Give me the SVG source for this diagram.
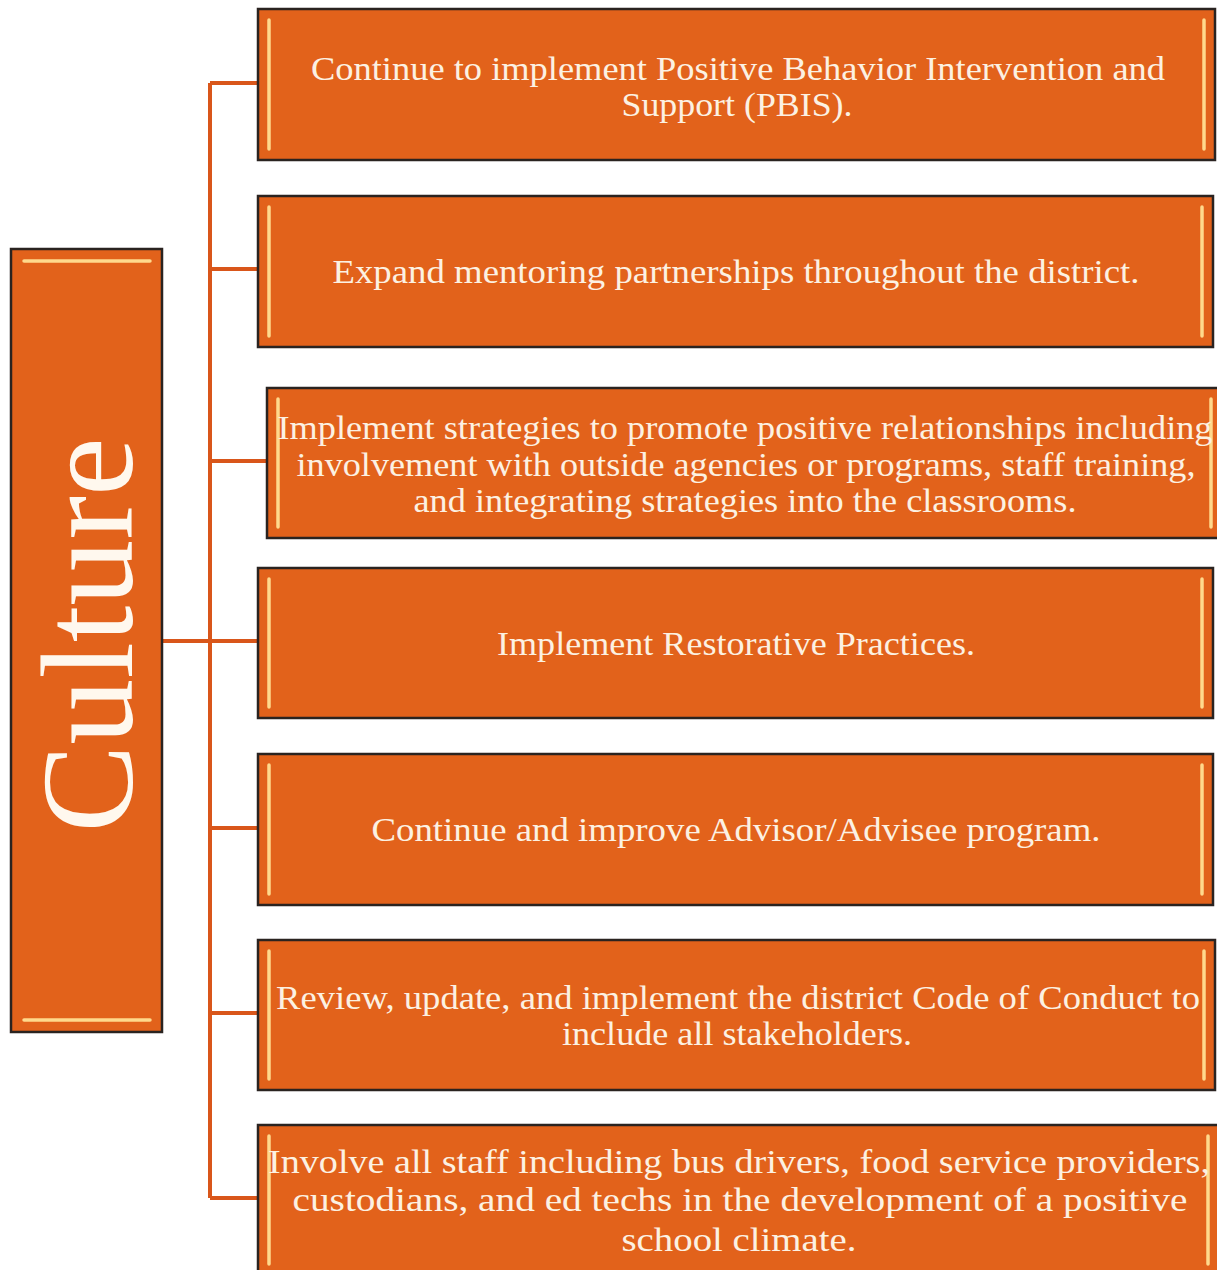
<svg xmlns="http://www.w3.org/2000/svg" width="1217" height="1270" viewBox="0 0 1217 1270">
<defs>
<style>
.box{fill:#E2621B;stroke:#2a2320;stroke-width:2.5}
.hl{stroke:#FFD98C;stroke-width:3.5;stroke-linecap:round}
.conn{fill:none;stroke:#D9561A;stroke-width:4}
.t{font-family:"Liberation Serif","Times New Roman",serif;font-size:33px;fill:#FCF1E2;text-anchor:middle}
.big{font-family:"Liberation Serif","Times New Roman",serif;font-size:132px;fill:#FFF8EE;text-anchor:middle}
</style>
</defs>
<rect width="1217" height="1270" fill="#ffffff"/>
<g id="connectors">
<path class="conn" d="M162,641 H210 M210,83 V1198 M210,83 H258 M210,269 H258 M210,461 H267 M210,641 H258 M210,828 H258 M210,1013 H258 M210,1198 H258"/>
</g>
<g id="culture">
<rect class="box" x="11" y="249" width="151" height="783"/>
<line class="hl" x1="24" y1="261" x2="150" y2="261"/>
<line class="hl" x1="24" y1="1020" x2="150" y2="1020"/>
<text class="big" transform="translate(132,635) rotate(-90)" x="0" y="0" textLength="395" lengthAdjust="spacingAndGlyphs">Culture</text>
</g>
<g id="n1">
<rect class="box" x="258" y="9" width="957" height="151"/>
<line class="hl" x1="269" y1="20" x2="269" y2="149"/>
<line class="hl" x1="1204" y1="20" x2="1204" y2="149"/>
<text class="t" x="738" y="80" textLength="854" lengthAdjust="spacingAndGlyphs">Continue to implement Positive Behavior Intervention and</text>
<text class="t" x="737" y="116" textLength="231" lengthAdjust="spacingAndGlyphs">Support (PBIS).</text>
</g>
<g id="n2">
<rect class="box" x="258" y="196" width="955" height="151"/>
<line class="hl" x1="269" y1="207" x2="269" y2="336"/>
<line class="hl" x1="1202" y1="207" x2="1202" y2="336"/>
<text class="t" x="736" y="283" textLength="807" lengthAdjust="spacingAndGlyphs">Expand mentoring partnerships throughout the district.</text>
</g>
<g id="n3">
<rect class="box" x="267" y="388" width="955" height="150"/>
<line class="hl" x1="278" y1="399" x2="278" y2="527"/>
<line class="hl" x1="1211" y1="399" x2="1211" y2="527"/>
<text class="t" x="745" y="439" textLength="935" lengthAdjust="spacingAndGlyphs">Implement strategies to promote positive relationships including</text>
<text class="t" x="746" y="476" textLength="899" lengthAdjust="spacingAndGlyphs">involvement with outside agencies or programs, staff training,</text>
<text class="t" x="745" y="512" textLength="663" lengthAdjust="spacingAndGlyphs">and integrating strategies into the classrooms.</text>
</g>
<g id="n4">
<rect class="box" x="258" y="568" width="955" height="150"/>
<line class="hl" x1="269" y1="579" x2="269" y2="707"/>
<line class="hl" x1="1202" y1="579" x2="1202" y2="707"/>
<text class="t" x="736" y="655" textLength="478" lengthAdjust="spacingAndGlyphs">Implement Restorative Practices.</text>
</g>
<g id="n5">
<rect class="box" x="258" y="754" width="955" height="151"/>
<line class="hl" x1="269" y1="765" x2="269" y2="894"/>
<line class="hl" x1="1202" y1="765" x2="1202" y2="894"/>
<text class="t" x="736" y="841" textLength="729" lengthAdjust="spacingAndGlyphs">Continue and improve Advisor/Advisee program.</text>
</g>
<g id="n6">
<rect class="box" x="258" y="940" width="957" height="150"/>
<line class="hl" x1="269" y1="951" x2="269" y2="1079"/>
<line class="hl" x1="1204" y1="951" x2="1204" y2="1079"/>
<text class="t" x="738" y="1009" textLength="924" lengthAdjust="spacingAndGlyphs">Review, update, and implement the district Code of Conduct to</text>
<text class="t" x="737" y="1045" textLength="350" lengthAdjust="spacingAndGlyphs">include all stakeholders.</text>
</g>
<g id="n7">
<rect class="box" x="258" y="1125" width="962" height="150"/>
<line class="hl" x1="269" y1="1136" x2="269" y2="1264"/>
<line class="hl" x1="1208" y1="1136" x2="1208" y2="1264"/>
<text class="t" x="739" y="1173" textLength="942" lengthAdjust="spacingAndGlyphs">Involve all staff including bus drivers, food service providers,</text>
<text class="t" x="740" y="1211" textLength="895" lengthAdjust="spacingAndGlyphs">custodians, and ed techs in the development of a positive</text>
<text class="t" x="739" y="1251" textLength="235" lengthAdjust="spacingAndGlyphs">school climate.</text>
</g>
</svg>
